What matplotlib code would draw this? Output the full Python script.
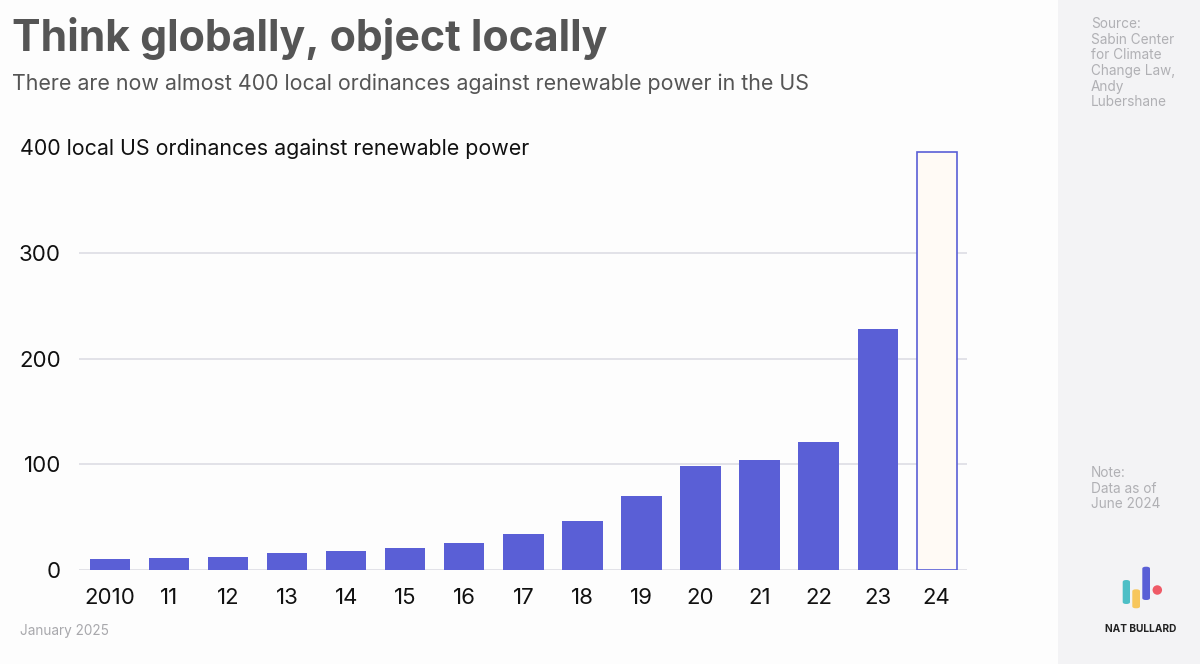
import matplotlib
matplotlib.use("Agg")
import matplotlib.pyplot as plt
from matplotlib.patches import Rectangle, FancyBboxPatch, Ellipse

plt.rcParams["font.family"] = ["Inter", "DejaVu Sans"]

# data
years = ["2010", "11", "12", "13", "14", "15", "16", "17", "18", "19", "20", "21", "22", "23", "24"]
ordinances = [10, 11, 12, 16, 18, 21, 26, 34, 46, 70, 98, 104, 121, 228, 395]
y_ticks = [0, 100, 200, 300]

BAR = "#5a5fd6"
GRID = "#e2e2e8"
GREY_TXT = "#555555"
SIDE_TXT = "#b0b0b4"

W, H = 1200, 664
fig = plt.figure(figsize=(W / 100, H / 100), dpi=100)
fig.patch.set_facecolor("#fdfdfd")

# sidebar
fig.add_artist(Rectangle((1058 / W, 0), 1 - 1058 / W, 1, transform=fig.transFigure,
                         facecolor="#f3f3f5", edgecolor="none", zorder=0))

ax = fig.add_axes([79 / W, 1 - 570 / H, (966.7 - 79) / W, (570 - 147.2) / H])
ax.set_facecolor("none")

x = list(range(len(years)))
colors = [BAR] * (len(years) - 1) + ["#fffaf5"]
bars = ax.bar(x, ordinances, width=0.68, color=colors, zorder=3)
bars[-1].set_edgecolor(BAR)
bars[-1].set_linewidth(1.2)

ax.set_xlim(-0.53, len(years) - 0.49)
ax.set_ylim(0, 400)
ax.set_yticks(y_ticks)
ax.set_xticks(x)
ax.set_xticklabels(years)
ax.yaxis.grid(True, color=GRID, linewidth=1.4, zorder=0)
ax.tick_params(axis="both", length=0, labelsize=16, colors="#111111")
ax.tick_params(axis="y", pad=13)
ax.tick_params(axis="x", pad=13)
for s in ax.spines.values():
    s.set_visible(False)

# titles
fig.text(12 / W, 1 - 39 / H, "Think globally, object locally", fontsize=30.8, fontweight="bold",
         color=GREY_TXT, va="center", ha="left")
fig.text(12 / W, 1 - 84 / H, "There are now almost 400 local ordinances against renewable power in the US",
         fontsize=15.4, color=GREY_TXT, va="center", ha="left")
fig.text(20 / W, 1 - 149 / H, "400 local US ordinances against renewable power",
         fontsize=15.4, color="#111111", va="center", ha="left")
fig.text(20 / W, 1 - 631 / H, "January 2025", fontsize=9.8, color="#a8a8ac", va="center", ha="left")

# sidebar notes
fig.text(1091 / W, 1 - 17 / H, "Source:\nSabin Center\nfor Climate\nChange Law,\nAndy\nLubershane",
         fontsize=9.8, color=SIDE_TXT, va="top", ha="left", linespacing=1.15)
fig.text(1091 / W, 1 - 466 / H, "Note:\nData as of\nJune 2024",
         fontsize=9.8, color=SIDE_TXT, va="top", ha="left", linespacing=1.15)

# logo
for (x0, y0, x1, y1, c) in [(1122.7, 580, 1130, 604, "#4dbfc6"),
                            (1132.3, 589.3, 1140, 608.3, "#f7c65c"),
                            (1142.3, 566.7, 1150, 600, "#5a5fd6")]:
    fig.add_artist(FancyBboxPatch((x0 / W, 1 - y1 / H), (x1 - x0) / W, (y1 - y0) / H,
                                  boxstyle="round,pad=0,rounding_size=0.003",
                                  transform=fig.transFigure, facecolor=c, edgecolor="none"))
fig.add_artist(Ellipse((1157.3 / W, 1 - 590 / H), 9.5 / W, 9.5 / H, transform=fig.transFigure,
                       facecolor="#ef5a67", edgecolor="none"))
fig.text(1140.5 / W, 1 - 628.7 / H, "NAT BULLARD", fontsize=7.3, fontweight="bold", color="#222222",
         va="center", ha="center")

fig.savefig("out.png", dpi=100, facecolor=fig.get_facecolor())
